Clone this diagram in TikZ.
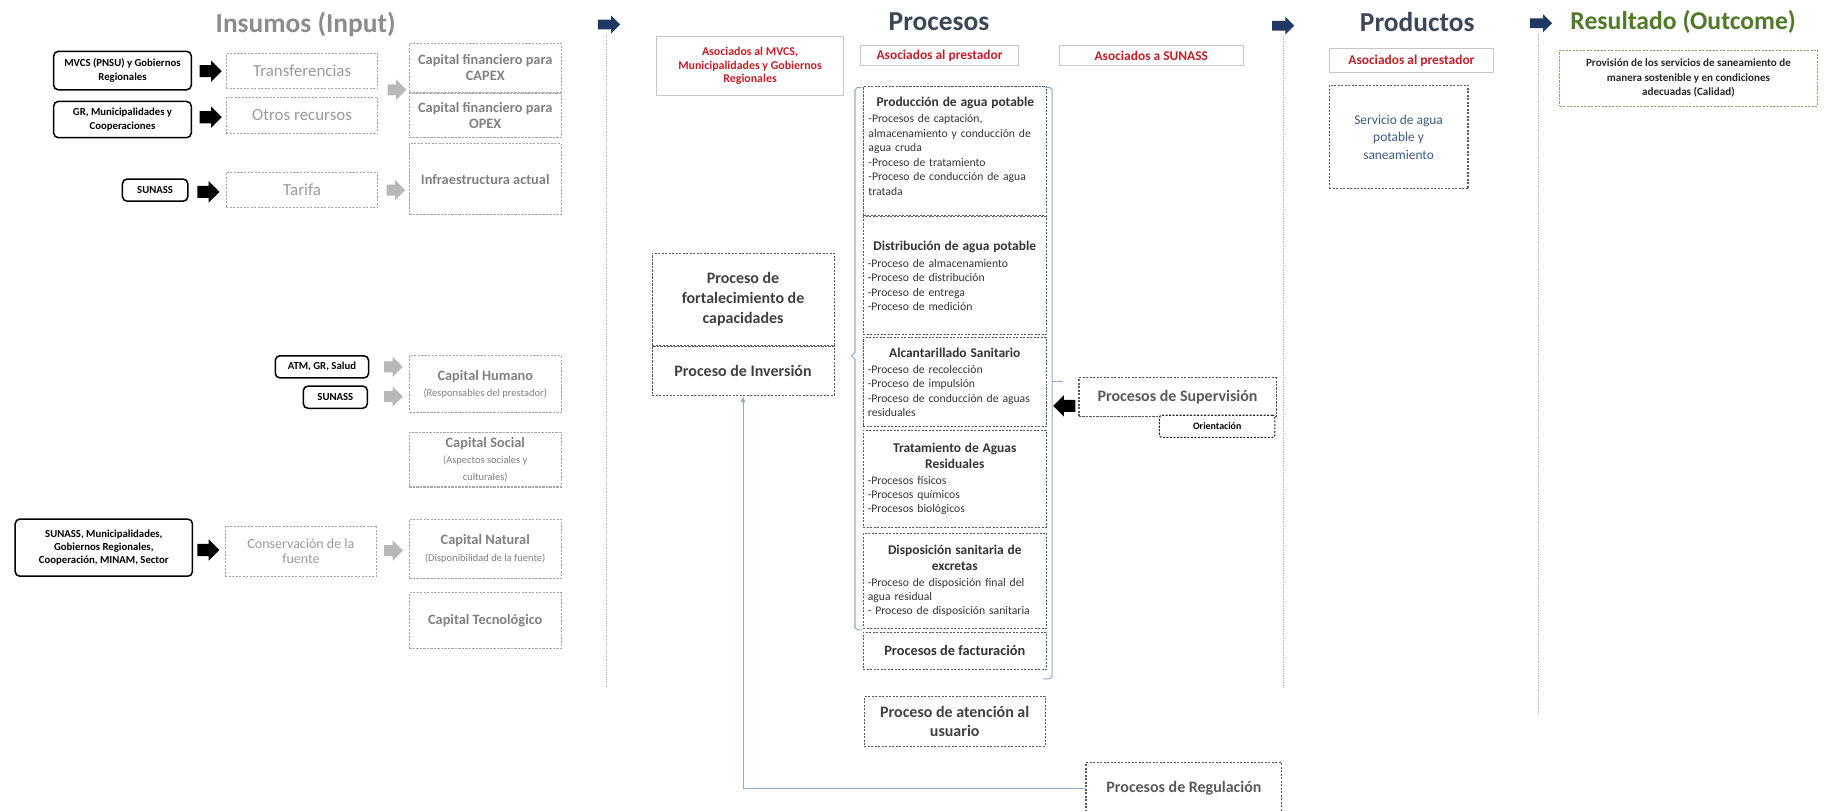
\documentclass[tikz,border=0pt]{standalone}
\usepackage{fontspec}
\setmainfont{Carlito}
\usepackage{tikz}
\usetikzlibrary{positioning}
\usetikzlibrary{shapes.arrows}

\definecolor{insgrey}{HTML}{9A9A9A}
\definecolor{capgrey}{HTML}{808080}
\definecolor{dashgrey}{HTML}{A6A6A6}
\definecolor{procgrey}{HTML}{595959}
\definecolor{asored}{HTML}{C0202A}
\definecolor{navy}{HTML}{203864}
\definecolor{slate}{HTML}{3B4656}
\definecolor{outgreen}{HTML}{4F7A28}
\definecolor{outline}{HTML}{8FA06A}
\definecolor{linkblue}{HTML}{8EAAD2}
\definecolor{servblue}{HTML}{3D5A80}

\newcommand{\ptit}[1]{{\centering\fontsize{11.5}{13.5}\selectfont\bfseries #1\par}\vspace{1.5pt}\fontsize{10}{12.4}\selectfont\raggedright}
\newcommand{\capsub}[1]{{\fontsize{9}{11}\selectfont\mdseries #1}}

\begin{document}
\begin{tikzpicture}[x=1pt, y=-1pt,
  src/.style={rectangle, draw=black, line width=1.3pt, rounded corners=4pt, align=center, inner sep=1pt, font=\fontsize{9.2}{11.5}\selectfont\bfseries},
  ins/.style={rectangle, draw=dashgrey, line width=0.9pt, dash pattern=on 1.8pt off 1.2pt, align=center, inner sep=1pt, text=insgrey, font=\fontsize{14.5}{17}\selectfont},
  capbox/.style={ins, text=capgrey, font=\fontsize{12.3}{14}\selectfont\bfseries},
  dsh/.style={rectangle, draw=procgrey, line width=0.9pt, dash pattern=on 1.8pt off 1.2pt},
  proc/.style={dsh, text width=149pt, inner xsep=4pt, inner ysep=0pt, text=black!80},
  bigp/.style={dsh, align=center, inner sep=1pt, font=\fontsize{13.7}{17}\selectfont\bfseries, text=black!75},
  hdr/.style={rectangle, draw=black!22, line width=0.7pt, align=center, inner sep=1pt, text=asored, font=\fontsize{11.5}{13}\selectfont\bfseries},
  blk/.style={single arrow, fill=black, inner xsep=0pt, inner ysep=5pt, single arrow head extend=4pt, minimum height=19pt},
  gry/.style={blk, fill=black!28, inner ysep=4.5pt, minimum height=16pt},
  nav/.style={blk, fill=navy, inner ysep=4pt, single arrow head extend=3.5pt, minimum height=19pt},
  ttl/.style={font=\fontsize{23.5}{28}\selectfont\bfseries},
  sepline/.style={draw=black!28, line width=0.8pt, dash pattern=on 1pt off 1pt},
  brace/.style={draw=linkblue, line width=0.9pt}
]
\useasboundingbox (0, 0) rectangle (1568, 695);

% titles and separators
\node [ttl, text=black!45] (insumos) at (262, 21) {Insumos (Input)};
\node [ttl, text=slate] (procesos) at (805, 19) {Procesos};
\node [ttl, text=slate] (productos) at (1215, 19) {Productos};
\node [ttl, text=outgreen, font=\fontsize{22}{26}\selectfont\bfseries] (resultado) at (1443, 19) {Resultado (Outcome)};
\node [nav] (n1) at (520, 21) {};
\node [nav] (n2) at (1098, 22) {};
\node [nav] (n3) at (1319, 20) {};
\coordinate (s1a) at (520, 30);
\coordinate (s1b) at (520, 590);
\coordinate (s2a) at (1100, 31);
\coordinate (s2b) at (1100, 590);
\coordinate (s3a) at (1319, 29);
\coordinate (s3b) at (1319, 612);
\draw [sepline] (s1a) -- (s1b);
\draw [sepline] (s2a) -- (s2b);
\draw [sepline] (s3a) -- (s3b);

% insumos
\node [src, minimum width=118pt, minimum height=33pt] (mvcs) at (105, 60.5) {MVCS (PNSU) y Gobiernos\\Regionales};
\node [src, minimum width=118pt, minimum height=31pt] (gr) at (105, 102.5) {GR, Municipalidades y\\Cooperaciones};
\node [src, minimum width=56pt, minimum height=19pt] (sunass1) at (133, 163) {SUNASS};
\node [src, minimum width=80pt, minimum height=19pt] (atm) at (276, 314.5) {ATM, GR, Salud};
\node [src, minimum width=55pt, minimum height=19pt] (sunass2) at (287.5, 340.5) {SUNASS};
\node [src, minimum width=152pt, minimum height=49pt] (fuente) at (89, 469.5) {SUNASS, Municipalidades,\\Gobiernos Regionales,\\Cooperación, MINAM, Sector};
\node [blk] (a1) at (178, 61) {};
\node [blk] (a2) at (178, 100.5) {};
\node [blk] (a3) at (176, 164.5) {};
\node [blk] (a4) at (176, 471.5) {};
\node [ins, minimum width=130pt, minimum height=30pt] (transf) at (259, 61) {Transferencias};
\node [ins, minimum width=130pt, minimum height=31pt] (otros) at (259, 99) {Otros recursos};
\node [ins, minimum width=130pt, minimum height=30pt] (tarifa) at (259, 162.5) {Tarifa};
\node [ins, minimum width=130pt, minimum height=43pt, font=\fontsize{12}{13.5}\selectfont] (conserv) at (258, 472.5) {Conservación de la\\fuente};
\node [gry] (g1) at (338, 77) {};
\node [gry] (g2) at (337, 163) {};
\node [gry] (g3) at (335, 314.5) {};
\node [gry] (g4) at (335, 340) {};
\node [gry] (g5) at (335, 472) {};
\node [capbox, minimum width=130pt, minimum height=42pt] (capex) at (416, 58) {Capital financiero para\\CAPEX};
\node [capbox, minimum width=130pt, minimum height=38pt] (opex) at (416, 99) {Capital financiero para\\OPEX};
\node [capbox, minimum width=130pt, minimum height=61pt] (infra) at (416, 153.5) {Infraestructura actual};
\node [capbox, minimum width=130pt, minimum height=49pt] (humano) at (416, 329.5) {Capital Humano\\\capsub{(Responsables del prestador)}};
\node [capbox, minimum width=130pt, minimum height=47pt] (social) at (416, 394) {Capital Social\\\capsub{(Aspectos sociales y}\\\capsub{culturales)}};
\node [capbox, minimum width=130pt, minimum height=51pt] (natural) at (416, 470.5) {Capital Natural\\\capsub{(Disponibilidad de la fuente)}};
\node [capbox, minimum width=130pt, minimum height=48pt] (tecno) at (416, 532) {Capital Tecnológico};

% procesos
\node [hdr, minimum width=160pt, minimum height=51pt, font=\fontsize{10.2}{11.5}\selectfont\bfseries] (amvcs) at (643, 56.5) {Asociados al MVCS,\\Municipalidades y Gobiernos\\Regionales};
\node [hdr, minimum width=135pt, minimum height=17pt] (aprest) at (805.5, 47.5) {Asociados al prestador};
\node [hdr, minimum width=158pt, minimum height=17pt] (asunass) at (987, 47.5) {Asociados a SUNASS};
\node [proc, minimum height=111pt] (prod) at (819, 129.5) {\ptit{Producción de agua potable}-Procesos de captación,\\ almacenamiento y conducción de\\ agua cruda\\ -Proceso de tratamiento\\ -Proceso de conducción de agua\\ tratada\par\vspace*{8pt}};
\node [proc, minimum height=101pt] (distr) at (818.5, 236.5) {\ptit{Distribución de agua potable}-Proceso de almacenamiento\\ -Proceso de distribución\\ -Proceso de entrega\\ -Proceso de medición};
\node [proc, minimum height=77pt] (alcan) at (818.5, 327.5) {\ptit{Alcantarillado Sanitario}-Proceso de recolección\\ -Proceso de impulsión\\ -Proceso de conducción de aguas\\ residuales};
\node [proc, minimum height=83pt] (trat) at (818.5, 410.5) {\ptit{Tratamiento de Aguas\\ Residuales}-Procesos físicos\\ -Procesos químicos\\ -Procesos biológicos};
\node [proc, minimum height=82pt] (dispo) at (818.5, 498) {\ptit{Disposición sanitaria de\\ excretas}-Proceso de disposición final del\\ agua residual\\ - Proceso de disposición sanitaria};
\node [dsh, minimum width=157pt, minimum height=32pt, text=black!80, font=\fontsize{12.3}{14}\selectfont\bfseries] (fact) at (818.5, 558) {Procesos de facturación};
\node [bigp, minimum width=155pt, minimum height=43pt] (atencion) at (818.5, 618.5) {Proceso de atención al\\usuario};
\node [bigp, minimum width=156pt, minimum height=79pt] (fort) at (637, 256.5) {Proceso de\\fortalecimiento de\\capacidades};
\node [bigp, minimum width=156pt, minimum height=42pt] (inv) at (637, 318) {Proceso de Inversión};
\node [bigp, minimum width=169pt, minimum height=33pt, text=black!65] (sup) at (1009.5, 340.5) {Procesos de Supervisión};
\node [dsh, draw=black!85, rounded corners=2pt, fill=white, minimum width=99pt, minimum height=19pt, inner sep=1pt, font=\fontsize{8.5}{10}\selectfont\bfseries] (orient) at (1043.5, 365.5) {Orientación};
\node [blk, shape border rotate=180] (sarr) at (915, 348) {};
\node [bigp, minimum width=168pt, minimum height=44pt, text=black!65] (reg) at (1015, 676) {Procesos de Regulación};

\draw [brace] (739, 75) -- (735, 75) -- (733, 77) -- (733, 302) -- (730, 305) -- (733, 308) -- (733, 538) -- (735, 540) -- (739, 540);
\draw [brace] (896, 75) -- (900, 75) -- (902, 77) -- (902, 580) -- (900, 582) -- (894, 582);
\draw [brace] (902, 327) -- (911, 327);
\draw [-latex, draw=linkblue, line width=0.8pt] (reg) -| (inv);

% productos y resultado
\node [hdr, minimum width=140pt, minimum height=21pt] (pprest) at (1210, 52) {Asociados al prestador};
\node [dsh, minimum width=119pt, minimum height=89pt, align=center, text=servblue, font=\fontsize{11.5}{15}\selectfont] (serv) at (1199, 117.5) {Servicio de agua\\potable y\\saneamiento};
\node [dsh, draw=outline, minimum width=221pt, minimum height=48pt, align=center, text=black!85, font=\fontsize{9.5}{12.5}\selectfont\bfseries] (outc) at (1447.5, 67) {Provisión de los servicios de saneamiento de\\manera sostenible y en condiciones\\adecuadas (Calidad)};
\end{tikzpicture}
\end{document}
